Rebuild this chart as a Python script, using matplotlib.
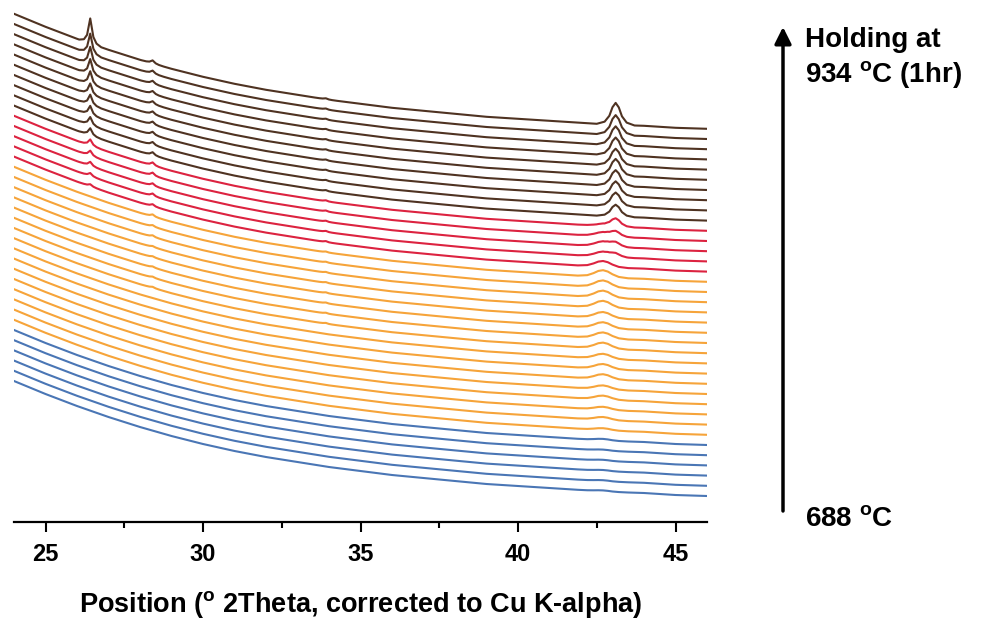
import numpy as np
import matplotlib
matplotlib.use('Agg')
import matplotlib.pyplot as plt

# 2theta sample points and background counts
bg_theta = [24, 24.5, 25, 25.5, 26, 26.5, 27, 27.5, 28, 28.5, 29, 29.5, 30,
            31, 32, 33, 34, 35, 36, 37, 38, 39, 40, 41, 42, 43, 44, 45, 46]
bg_counts = [115, 108.5, 102, 96, 90, 84.5, 79, 74, 69, 64.5, 60, 56, 52,
             45, 39, 34, 29, 25, 21, 18, 15, 12, 10, 8, 6, 4, 3, 1, 0]

# peak profile (offset from centre in deg 2theta, relative height)
sharp_off = [-0.35, -0.2, -0.1, -0.05, 0, 0.05, 0.1, 0.2, 0.35]
sharp_rel = [0, 0.08, 0.3, 0.65, 1, 0.65, 0.3, 0.08, 0]
broad_off = [-0.6, -0.35, -0.2, -0.1, 0, 0.1, 0.2, 0.35, 0.6]
broad_rel = [0, 0.12, 0.4, 0.8, 1, 0.8, 0.4, 0.12, 0]
wide_off = [-0.8, -0.5, -0.3, -0.15, 0, 0.15, 0.3, 0.5, 0.8]
wide_rel = [0, 0.15, 0.5, 0.85, 1, 0.85, 0.5, 0.15, 0]

# scans, bottom (688 C) to top (934 C, 1 hr hold)
groups = ['blue'] * 6 + ['orange'] * 16 + ['red'] * 5 + ['brown'] * 10

# peak heights per scan (counts), bottom to top
h_264 = [0] * 6 + [0] * 16 + [2, 3, 4, 5, 6] + [7, 8, 9, 10, 11, 13, 15, 17, 20, 25]
h_284 = [0] * 6 + [0, 0, 0, 0, 0, 0, 0, 0, 1, 1, 1, 1, 1, 1.5, 1.5, 2] + [2, 2.5, 2.5, 3, 3] + [3] * 10
h_339 = [0] * 6 + [0] * 8 + [0.8] * 8 + [1] * 5 + [1] * 10
h_427 = [1, 1, 1, 1, 1, 1.5] + [2, 3, 3, 4, 4, 5, 5, 5, 6, 6, 6, 6, 7, 7, 7, 7] + [6, 5, 5, 4, 2] + [0] * 10
h_431 = [0] * 6 + [0] * 16 + [0, 3, 4, 5, 8] + [12, 14, 15, 16, 17, 17, 18, 19, 20, 22]

colors = {'blue': '#4a76b5', 'orange': '#f6a43a', 'red': '#dc2340', 'brown': '#4f3322'}

plt.rcParams['mathtext.fontset'] = 'custom'
plt.rcParams['mathtext.rm'] = 'Liberation Sans:bold'
plt.rcParams['mathtext.bf'] = 'Liberation Sans:bold'

fig = plt.figure(figsize=(9.85, 6.19), dpi=100)
ax = fig.add_axes([14 / 985, 97 / 619, 693 / 985, 512 / 619])

step = 10.2
peaks = [(26.42, sharp_off, sharp_rel, h_264),
         (28.4, sharp_off, sharp_rel, h_284),
         (33.9, sharp_off, sharp_rel, h_339),
         (42.7, wide_off, wide_rel, h_427),
         (43.1, broad_off, broad_rel, h_431)]

pts = list(bg_theta)
for c, off, rel, h in peaks:
    pts += [c + o for o in off]
x = np.array(sorted(set(pts)))
base = np.interp(x, bg_theta, bg_counts)

for i, g in enumerate(groups):
    y = base + i * step
    for c, off, rel, h in peaks:
        if h[i]:
            y = y + h[i] * np.interp(x, np.array(off) + c, rel, left=0, right=0)
    ax.plot(x, y, color=colors[g], lw=1.5)

ax.set_xlim(24, 46)
ax.set_ylim(-26, 486)
for s in ['left', 'right', 'top']:
    ax.spines[s].set_visible(False)
ax.spines['bottom'].set_linewidth(1.6)
ax.set_yticks([])
ax.set_xticks([25, 30, 35, 40, 45])
ax.set_xticks([27.5, 32.5, 37.5, 42.5], minor=True)
ax.tick_params(axis='x', which='major', direction='out', length=7, width=1.5, pad=8)
ax.tick_params(axis='x', which='minor', direction='out', length=4, width=1.5)
for lab in ax.get_xticklabels():
    lab.set_family('Liberation Sans')
    lab.set_fontweight('bold')
    lab.set_fontsize(17)
ax.set_xlabel(r'Position ($^{\mathrm{o}}$ 2Theta, corrected to Cu K-alpha)',
              family='Liberation Sans', fontweight='bold', fontsize=19.5, labelpad=17)

ax.annotate('', xy=(783 / 985, 1 - 27 / 619), xytext=(783 / 985, 1 - 511 / 619),
            xycoords='figure fraction', textcoords='figure fraction',
            arrowprops=dict(arrowstyle='-|>,head_length=0.5,head_width=0.25',
                            mutation_scale=20, lw=2.5, color='black',
                            shrinkA=0, shrinkB=0))
tkw = dict(fontsize=20, fontweight='bold', family='Liberation Sans', va='center', ha='left')
fig.text(805 / 985, 1 - 40 / 619, 'Holding at', **tkw)
fig.text(805 / 985, 1 - 75 / 619, r'934 $^{\mathbf{o}}$C (1hr)', **tkw)
fig.text(805 / 985, 1 - 520 / 619, r'688 $^{\mathbf{o}}$C', **tkw)

fig.savefig('out.png', dpi=100)
